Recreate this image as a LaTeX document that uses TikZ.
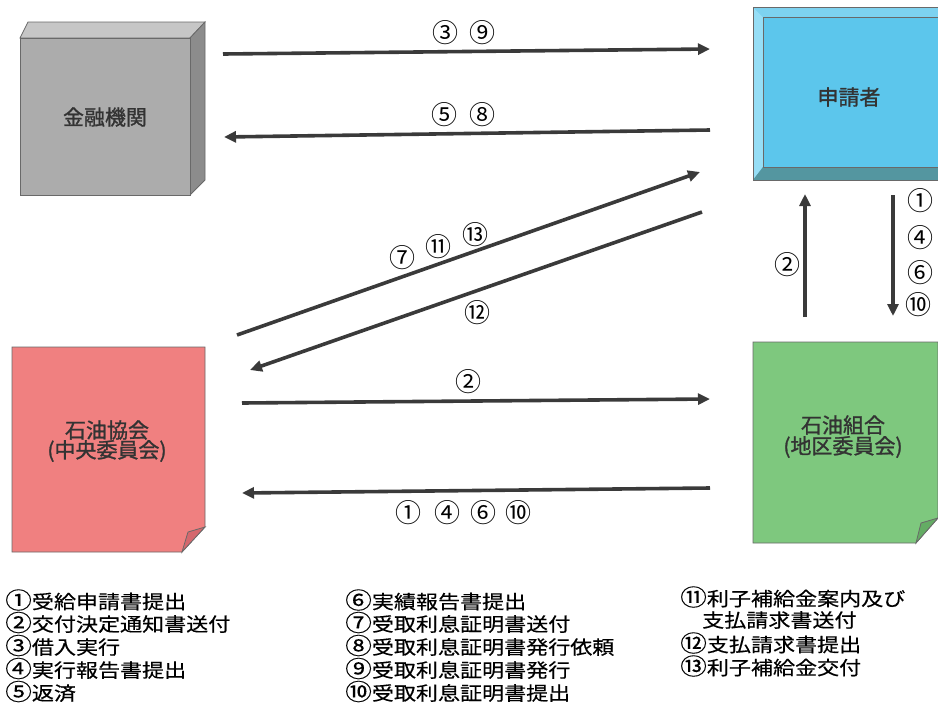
\documentclass[tikz,border=0pt]{standalone}
\usepackage{fontspec}
\setmainfont{Noto Sans CJK JP}
\newfontfamily\boxfont[FakeBold=1.2]{Noto Sans CJK JP}
\newfontfamily\legfont[FakeBold=0.35]{Noto Sans CJK JP}
\usetikzlibrary{arrows.meta}
\definecolor{lineC}{RGB}{58,58,58}
\definecolor{grayF}{RGB}{172,172,172}
\definecolor{grayT}{RGB}{198,198,198}
\definecolor{grayR}{RGB}{140,140,140}
\definecolor{blueF}{RGB}{92,198,236}
\definecolor{blueL}{RGB}{150,222,246}
\definecolor{blueT}{RGB}{125,210,240}
\definecolor{blueB}{RGB}{84,150,160}
\definecolor{pinkF}{RGB}{240,128,128}
\definecolor{pinkD}{RGB}{212,104,110}
\definecolor{greenF}{RGB}{126,200,126}
\definecolor{greenD}{RGB}{100,172,100}
\definecolor{edgeC}{RGB}{105,105,105}
\newcommand\cnum[1]{{\fontsize{23}{23}\selectfont #1}}
\tikzset{
  arr/.style={line width=3.6pt, draw=lineC, -{Triangle[length=12pt,width=11pt]}},
  lbl/.style={font=\fontsize{26}{26}\selectfont, inner sep=0pt, text=black},
  boxtxt/.style={font=\boxfont\fontsize{21}{21}\selectfont, inner sep=0pt, text=black!80},
  leg/.style={font=\legfont\fontsize{19}{23}\selectfont, inner sep=0pt, anchor=west, xscale=1.16, text=black},
  edge3d/.style={draw=edgeC, line width=0.8pt}
}
\begin{document}
\begin{tikzpicture}[x=1pt,y=-1pt]
\useasboundingbox (0,0) rectangle (938,705);
% ---------- 金融機関 (gray 3D box)
\fill[grayT, edge3d] (20,38) -- (28,22) -- (205,22) -- (190,38) -- cycle;
\fill[grayR, edge3d] (190,38) -- (205,22) -- (205,180) -- (190,195) -- cycle;
\fill[grayF, edge3d] (20,38) rectangle (190,195);
\node[boxtxt] (kinyu) at (105,117) {金融機関};
% ---------- 申請者 (blue bevel box)
\fill[blueF] (753,7) rectangle (938,180);
\fill[blueL] (753,7) -- (763,17) -- (763,167) -- (753,180) -- cycle;
\fill[blueT] (753,7) -- (938,7) -- (938,17) -- (763,17) -- cycle;
\fill[blueB] (753,180) -- (763,167) -- (938,167) -- (938,180) -- cycle;
\draw[edgeC, line width=0.8pt] (938,7) -- (753,7) -- (753,180) -- (938,180);
\draw[edgeC, line width=0.8pt] (938,17) -- (763,17) -- (763,167) -- (938,167);
\node[boxtxt] (shinsei) at (849,97) {申請者};
% ---------- 石油協会 (pink note)
\fill[pinkF, edge3d] (12,347) -- (205,347) -- (205,527) -- (182,552) -- (12,552) -- cycle;
\fill[pinkD, edge3d] (205,527) -- (182,552) -- (188,532) -- cycle;
\node[boxtxt] (kyokai) at (107,430) {石油協会};
\node[boxtxt] (kyokai2) at (107,451) {(中央委員会)};
% ---------- 石油組合 (green note)
\fill[greenF, edge3d] (753,342) -- (938,342) -- (938,518) -- (916,543) -- (753,543) -- cycle;
\fill[greenD, edge3d] (938,518) -- (916,543) -- (921,523) -- cycle;
\node[boxtxt] (kumiai) at (843,425) {石油組合};
\node[boxtxt] (kumiai2) at (843,447) {(地区委員会)};
% ---------- connector end points
\coordinate (a1s) at (223,54);  \coordinate (a1e) at (710,49);
\coordinate (a2s) at (710,130); \coordinate (a2e) at (224,137);
\coordinate (a3s) at (237,335); \coordinate (a3e) at (700,172);
\coordinate (a4s) at (702,212); \coordinate (a4e) at (250,370);
\coordinate (a5s) at (242,403); \coordinate (a5e) at (710,399);
\coordinate (a6s) at (710,488); \coordinate (a6e) at (242,493);
\coordinate (a7s) at (805,317); \coordinate (a7e) at (805,194);
\coordinate (a8s) at (893,195); \coordinate (a8e) at (893,316);
% ---------- arrows
\draw[arr] (a1s) -- (a1e);
\draw[arr] (a2s) -- (a2e);
\draw[arr] (a3s) -- (a3e);
\draw[arr] (a4s) -- (a4e);
\draw[arr] (a5s) -- (a5e);
\draw[arr] (a6s) -- (a6e);
\draw[arr] (a7s) -- (a7e);
\draw[arr] (a8s) -- (a8e);
% ---------- arrow labels
\node[lbl] (l3) at (445,33) {③};
\node[lbl] (l9) at (482,33) {⑨};
\node[lbl] (l5) at (444,115) {⑤};
\node[lbl] (l8) at (482,115) {⑧};
\node[lbl] (l7) at (402,258) {⑦};
\node[lbl] (l11) at (438,247) {⑪};
\node[lbl] (l13) at (475,235) {⑬};
\node[lbl] (l12) at (477,313) {⑫};
\node[lbl] (l2a) at (468,382) {②};
\node[lbl] (l1a) at (408,513) {①};
\node[lbl] (l4a) at (447,513) {④};
\node[lbl] (l6a) at (483,513) {⑥};
\node[lbl] (l10a) at (518,513) {⑩};
\node[lbl] (l2b) at (787,265) {②};
\node[lbl] (l1b) at (920,201) {①};
\node[lbl] (l4b) at (920,238) {④};
\node[lbl] (l6b) at (920,273) {⑥};
\node[lbl] (l10b) at (918,305) {⑩};
% ---------- legend
\node[leg] (g1) at (5,600) {\cnum{①}受給申請書提出};
\node[leg] (g2) at (5,622.5) {\cnum{②}交付決定通知書送付};
\node[leg] (g3) at (5,645.5) {\cnum{③}借入実行};
\node[leg] (g4) at (5,668.5) {\cnum{④}実行報告書提出};
\node[leg] (g5) at (5,691.5) {\cnum{⑤}返済};
\node[leg] (g6) at (345,600) {\cnum{⑥}実績報告書提出};
\node[leg] (g7) at (345,622.5) {\cnum{⑦}受取利息証明書送付};
\node[leg] (g8) at (345,645.5) {\cnum{⑧}受取利息証明書発行依頼};
\node[leg] (g9) at (345,668.5) {\cnum{⑨}受取利息証明書発行};
\node[leg] (g10) at (345,691.5) {\cnum{⑩}受取利息証明書提出};
\node[leg] (g11) at (680,597) {\cnum{⑪}利子補給金案内及び};
\node[leg] (g11b) at (702,620) {支払請求書送付};
\node[leg] (g12) at (680,643) {\cnum{⑫}支払請求書提出};
\node[leg] (g13) at (680,666) {\cnum{⑬}利子補給金交付};
\end{tikzpicture}
\end{document}
